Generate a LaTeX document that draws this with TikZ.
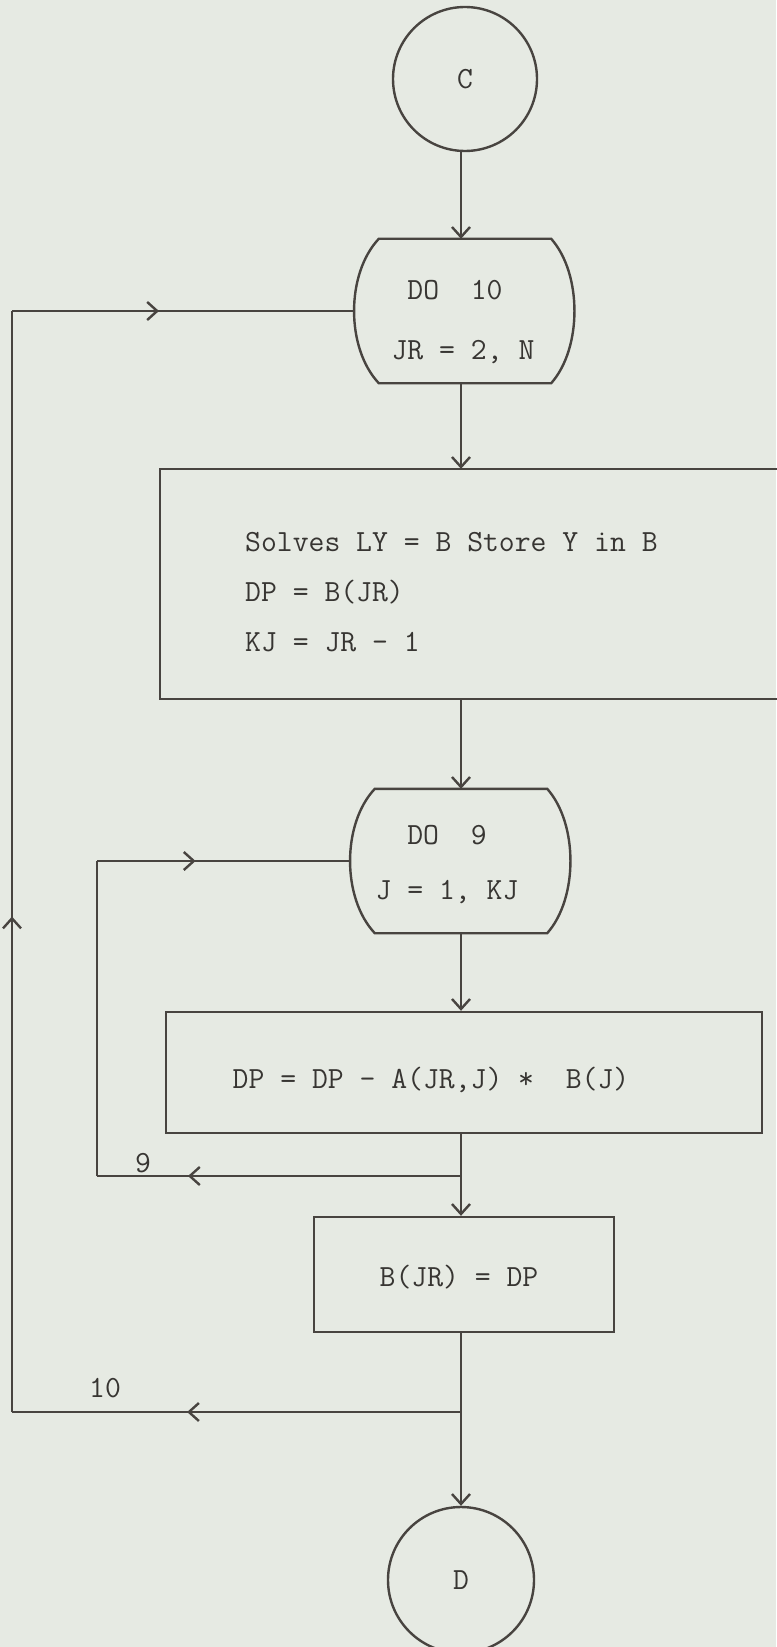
\documentclass[tikz,border=0pt]{standalone}
\usetikzlibrary{arrows.meta,calc,decorations.markings}
\definecolor{paper}{RGB}{230,234,227}
\definecolor{ink}{RGB}{72,68,64}
\definecolor{txt}{RGB}{55,53,50}
\begin{document}
\begin{tikzpicture}[x=0.5pt,y=-0.5pt,
  line width=1.2pt, color=ink,
  every node/.style={font=\fontsize{15.4pt}{25pt}\selectfont\ttfamily, text=txt, inner sep=0pt},
  arr/.style={-{Straight Barb[length=5pt,width=9pt]}},
  midarr/.style={postaction={decorate},decoration={markings,mark=at position #1 with {\arrow{Straight Barb[length=5pt,width=9pt]}}}},
  conn/.style={circle, draw, minimum size=#1},
  dobox/.style={rectangle, minimum width=85pt, minimum height=71pt}
]
\fill[paper] (0,0) rectangle (776,1647);
\useasboundingbox (0,0) rectangle (776,1647);

\coordinate (col) at (461,0);

% nodes
\node[conn=72pt] (C) at (465,79) {C};

\node[dobox] (do10) at (465,311) {};
\draw (do10.north west) -- (do10.north east)
  .. controls ($(do10.north east)+(31,35)$) and ($(do10.south east)+(31,-35)$) .. (do10.south east)
  -- (do10.south west)
  .. controls ($(do10.south west)+(-33,-35)$) and ($(do10.north west)+(-33,35)$) .. (do10.north west) -- cycle;
\coordinate (do10w) at ($(do10.west)+(-25,0)$);
\node (t10a) at (455,290) {DO\ \ 10};
\node (t10b) at (463,352) {JR = 2, N};

\node[minimum width=307.5pt, minimum height=114pt] (big) at (468.5,584) {};
\draw (big.north east) -- (big.north west) -- (big.south west) -- (big.south east);
\node[anchor=west, align=left] (bigtxt) at (244,592) {Solves LY = B Store Y in B\\DP = B(JR)\\KJ = JR - 1};

\node[dobox] (do9) at (461,861) {};
\draw (do9.north west) -- (do9.north east)
  .. controls ($(do9.north east)+(31,35)$) and ($(do9.south east)+(31,-35)$) .. (do9.south east)
  -- (do9.south west)
  .. controls ($(do9.south west)+(-33,-35)$) and ($(do9.north west)+(-33,35)$) .. (do9.north west) -- cycle;
\coordinate (do9w) at ($(do9.west)+(-25,0)$);
\node (t9a) at (447,835) {DO\ \ 9};
\node (t9b) at (447,892) {J = 1, KJ};

\node[draw, minimum width=298pt, minimum height=60.5pt] (dp) at (464,1072.5) {};
\node (dptxt) at (431,1080) {DP = DP - A(JR,J) *\ \ B(J)};

\node[draw, minimum width=150pt, minimum height=57.5pt] (bjr) at (464,1274.5) {};
\node (bjrtxt) at (459,1277) {B(JR) = DP};

\node[conn=73pt] (D) at (461,1580) {D};

\coordinate (j9) at (461,1176);
\coordinate (j10) at (461,1412);
\coordinate (c9a) at (97,1176);
\coordinate (c9b) at (97,858);
\coordinate (c10a) at (12,1412);

\node (l9) at (143,1163) {9};
\node (l10) at (105,1388) {10};

% main column
\draw[arr] (C.south -| col) -- (col |- do10.north);
\draw[arr] (col |- do10.south) -- (col |- big.north);
\draw[arr] (col |- big.south) -- (col |- do9.north);
\draw[arr] (col |- do9.south) -- (col |- dp.north);
\draw (col |- dp.south) -- (j9);
\draw[arr] (j9) -- (j9 |- bjr.north);
\draw (j9 |- bjr.south) -- (j10);
\draw[arr] (j10) -- (j10 |- D.north);

% loop 9
\draw[midarr=0.75] (j9) -- (c9a);
\draw (c9a) -- (c9b |- do9w);
\draw[midarr=0.39] (c9b |- do9w) -- (do9w);

% loop 10
\draw[midarr=0.61] (j10) -- (c10a);
\draw[midarr=0.45] (c10a) -- (c10a |- do10w);
\draw[midarr=0.43] (c10a |- do10w) -- (do10w);
\end{tikzpicture}
\end{document}
